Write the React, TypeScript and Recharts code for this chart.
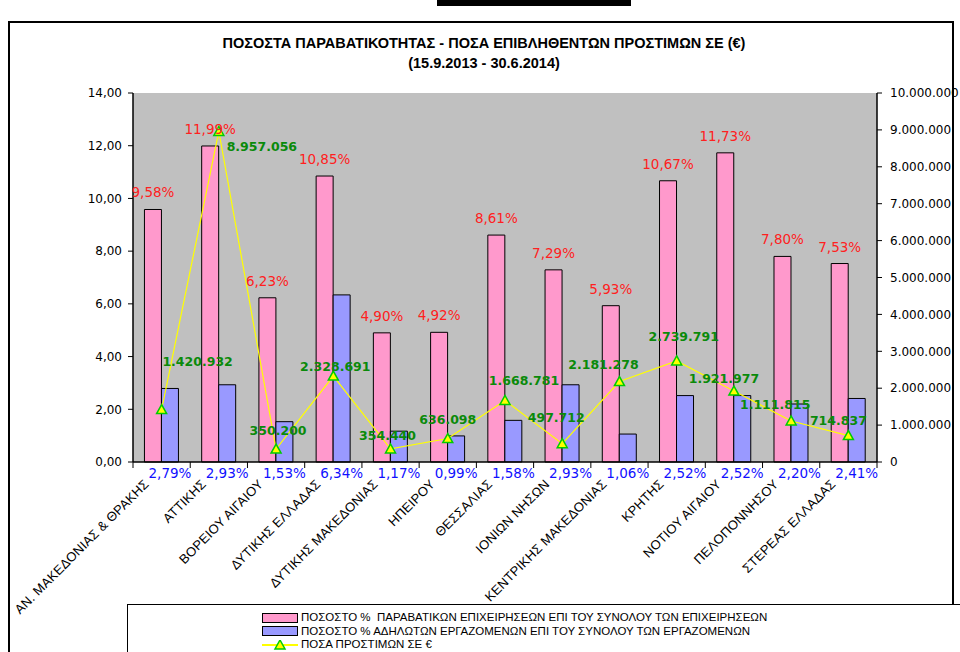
import {
  Bar,
  CartesianGrid,
  ComposedChart,
  LabelList,
  Line,
  XAxis,
  YAxis,
} from "recharts";

const REGIONS = [
  "ΑΝ. ΜΑΚΕΔΟΝΙΑΣ & ΘΡΑΚΗΣ",
  "ΑΤΤΙΚΗΣ",
  "ΒΟΡΕΙΟΥ ΑΙΓΑΙΟΥ",
  "ΔΥΤΙΚΗΣ ΕΛΛΑΔΑΣ",
  "ΔΥΤΙΚΗΣ ΜΑΚΕΔΟΝΙΑΣ",
  "ΗΠΕΙΡΟΥ",
  "ΘΕΣΣΑΛΙΑΣ",
  "ΙΟΝΙΩΝ ΝΗΣΩΝ",
  "ΚΕΝΤΡΙΚΗΣ ΜΑΚΕΔΟΝΙΑΣ",
  "ΚΡΗΤΗΣ",
  "ΝΟΤΙΟΥ ΑΙΓΑΙΟΥ",
  "ΠΕΛΟΠΟΝΝΗΣΟΥ",
  "ΣΤΕΡΕΑΣ ΕΛΛΑΔΑΣ",
];
const VIOLATING_PCT = [9.58, 11.99, 6.23, 10.85, 4.9, 4.92, 8.61, 7.29, 5.93, 10.67, 11.73, 7.8, 7.53];
const UNDECLARED_PCT = [2.79, 2.93, 1.53, 6.34, 1.17, 0.99, 1.58, 2.93, 1.06, 2.52, 2.52, 2.2, 2.41];
const FINES_EUR = [
  1420932, 8957056, 350200, 2328691, 354440, 636098, 1668781, 497712, 2181278, 2739791, 1921977,
  1111815, 714837,
];
const LEFT_TICKS = [0, 2, 4, 6, 8, 10, 12, 14];
const RIGHT_TICKS = [0, 1000000, 2000000, 3000000, 4000000, 5000000, 6000000, 7000000, 8000000, 9000000, 10000000];

const LEGEND_LABELS = [
  "ΠΟΣΟΣΤΟ %  ΠΑΡΑΒΑΤΙΚΩΝ ΕΠΙΧΕΙΡΗΣΕΩΝ ΕΠΙ ΤΟΥ ΣΥΝΟΛΟΥ ΤΩΝ ΕΠΙΧΕΙΡΗΣΕΩΝ",
  "ΠΟΣΟΣΤΟ % ΑΔΗΛΩΤΩΝ ΕΡΓΑΖΟΜΕΝΩΝ ΕΠΙ ΤΟΥ ΣΥΝΟΛΟΥ ΤΩΝ ΕΡΓΑΖΟΜΕΝΩΝ",
  "ΠΟΣΑ ΠΡΟΣΤΙΜΩΝ ΣΕ €",
];

// hand-placed label nudges for the fine amounts (like in the excel original)
const FINE_LABEL_SHIFT = [
  [36, -48], [43, 15], [2, -19], [2, -10], [-3, -13], [0, -19], [19, -20],
  [-6, -26], [-16, -17], [7, -24], [-10, -13], [-16, -16], [-10, -15],
];

const data = REGIONS.map((region, i) => ({
  region,
  violating: VIOLATING_PCT[i],
  undeclared: UNDECLARED_PCT[i],
  fines: FINES_EUR[i],
}));

const PLOT = { left: 133, right: 877, top: 93, bottom: 462 };
const BAND = (PLOT.right - PLOT.left) / REGIONS.length;

const PINK = "#FF99CC";
const BLUE = "#9999FF";
const NARROW = "'Liberation Sans Narrow', 'Liberation Sans', Arial, sans-serif";
const VERDANA = "'DejaVu Sans', Verdana, sans-serif";

const pct = (v: number) => v.toFixed(2).replace(".", ",") + "%";
const dec = (v: number) => v.toFixed(2).replace(".", ",");
const thousands = (v: number) => String(Math.round(v)).replace(/\B(?=(\d{3})+(?!\d))/g, ".");

function RegionTick(props: any) {
  const { x, payload, index } = props;
  const edge = x - BAND / 2;
  return (
    <g>
      <line x1={edge} y1={PLOT.bottom} x2={edge} y2={PLOT.bottom + 6} stroke="#000" />
      {index === REGIONS.length - 1 && (
        <line x1={x + BAND / 2} y1={PLOT.bottom} x2={x + BAND / 2} y2={PLOT.bottom + 6} stroke="#000" />
      )}
      <text
        transform={`translate(${x - 12},${PLOT.bottom + 23}) rotate(-45)`}
        textAnchor="end"
        fontFamily={NARROW}
        fontSize={13}
        letterSpacing={0.2}
        fill="#000"
      >
        {payload.value}
      </text>
    </g>
  );
}

function Triangle(props: any) {
  const { cx, cy, index } = props;
  if (cx == null || cy == null) return <g key={index} />;
  return (
    <polygon
      key={index}
      points={`${cx},${cy - 5} ${cx - 5},${cy + 4} ${cx + 5},${cy + 4}`}
      fill="#FFFF00"
      stroke="#00CC00"
      strokeWidth={1.5}
    />
  );
}

function ViolatingLabel(props: any) {
  const { x, y, width, value } = props;
  return (
    <text x={x + width / 2} y={y - 17} textAnchor="middle" dominantBaseline="central" fontFamily={VERDANA} fontSize={13.5} fill="#FF2020">
      {pct(value)}
    </text>
  );
}

function UndeclaredLabel(props: any) {
  const { x, y, width, height, value } = props;
  return (
    <text x={x + width / 2} y={y + height + 11} textAnchor="middle" dominantBaseline="central" fontFamily={VERDANA} fontSize={13.5} fill="#1010FF">
      {pct(value)}
    </text>
  );
}

function FineLabel(props: any) {
  const { x, y, value, index } = props;
  const [dx, dy] = FINE_LABEL_SHIFT[index] || [0, -17];
  return (
    <text x={x + dx} y={y + dy} textAnchor="middle" dominantBaseline="central" fontFamily={VERDANA} fontSize={12.5} fontWeight="bold" fill="#0A8A0A">
      {thousands(value)}
    </text>
  );
}

function LegendBox() {
  const swatches = [
    <div style={{ width: 34, height: 8, background: PINK, border: "1px solid #000" }} />,
    <div style={{ width: 34, height: 8, background: BLUE, border: "1px solid #000" }} />,
    <svg width={36} height={10}>
      <line x1={0} y1={5} x2={36} y2={5} stroke="#FFFF00" strokeWidth={2} />
      <polygon points="18,0 13,9 23,9" fill="#FFFF00" stroke="#00CC00" strokeWidth={1.5} />
    </svg>,
  ];
  return (
    <div
      style={{
        position: "absolute",
        left: 127,
        top: 604,
        width: 840,
        height: 70,
        border: "1px solid #000",
        background: "#fff",
      }}
    >
      {LEGEND_LABELS.map((label, i) => (
        <div
          key={label}
          style={{
            position: "absolute",
            left: 134,
            top: 6 + i * 13.5,
            display: "flex",
            alignItems: "center",
            gap: 3,
            fontFamily: NARROW,
            fontSize: 11.5,
            lineHeight: "13px",
            whiteSpace: "pre",
          }}
        >
          {swatches[i]}
          <span>{label}</span>
        </div>
      ))}
    </div>
  );
}

export default function App() {
  return (
    <div
      style={{
        position: "absolute",
        left: 0,
        top: 0,
        width: 960,
        height: 652,
        overflow: "hidden",
        background: "#fff",
      }}
    >
      <div style={{ position: "absolute", left: 437, top: 0, width: 194, height: 6, background: "#000" }} />
      <div
        style={{
          position: "absolute",
          left: 8,
          top: 21,
          width: 942,
          height: 700,
          border: "2px solid #000",
        }}
      />
      <div
        style={{
          position: "absolute",
          left: 0,
          top: 33,
          width: 968,
          textAlign: "center",
          fontFamily: NARROW,
          fontWeight: "bold",
          fontSize: 14.5,
          lineHeight: "20px",
        }}
      >
        <div>ΠΟΣΟΣΤΑ ΠΑΡΑΒΑΤΙΚΟΤΗΤΑΣ - ΠΟΣΑ ΕΠΙΒΛΗΘΕΝΤΩΝ ΠΡΟΣΤΙΜΩΝ ΣΕ (€)</div>
        <div>(15.9.2013 - 30.6.2014)</div>
      </div>

      <div style={{ position: "absolute", left: 0, top: 0 }}>
        <ComposedChart
          width={960}
          height={652}
          data={data}
          margin={{ top: PLOT.top, right: 0, bottom: 0, left: 0 }}
          barCategoryGap="20%"
          barGap={0}
        >
          <CartesianGrid fill="#C0C0C0" horizontal={false} vertical={false} />
          <XAxis
            dataKey="region"
            xAxisId={0}
            height={652 - PLOT.bottom}
            interval={0}
            tickLine={false}
            axisLine={{ stroke: "#000", strokeWidth: 1.5 }}
            tick={<RegionTick />}
          />
          <YAxis
            yAxisId="left"
            orientation="left"
            width={PLOT.left}
            domain={[0, 14]}
            ticks={LEFT_TICKS}
            tickFormatter={dec}
            tickSize={5}
            tickMargin={6}
            axisLine={{ stroke: "#000", strokeWidth: 1.5 }}
            tickLine={{ stroke: "#000" }}
            tick={{ fill: "#000", fontSize: 12, fontFamily: VERDANA }}
          />
          <YAxis
            yAxisId="right"
            orientation="right"
            width={960 - PLOT.right}
            domain={[0, 10000000]}
            ticks={RIGHT_TICKS}
            tickFormatter={thousands}
            tickSize={5}
            tickMargin={8}
            axisLine={{ stroke: "#000", strokeWidth: 1.5 }}
            tickLine={{ stroke: "#000" }}
            tick={{ fill: "#000", fontSize: 12, fontFamily: VERDANA, textAnchor: "start" }}
          />
          <Bar yAxisId="left" dataKey="violating" fill={PINK} stroke="#000" strokeWidth={1} isAnimationActive={false}>
            <LabelList dataKey="violating" content={<ViolatingLabel />} />
          </Bar>
          <Bar yAxisId="left" dataKey="undeclared" fill={BLUE} stroke="#000" strokeWidth={1} isAnimationActive={false}>
            <LabelList dataKey="undeclared" content={<UndeclaredLabel />} />
          </Bar>
          <Line
            yAxisId="right"
            dataKey="fines"
            stroke="#FFFF00"
            strokeWidth={1.2}
            dot={<Triangle />}
            activeDot={false}
            isAnimationActive={false}
          >
            <LabelList dataKey="fines" content={<FineLabel />} />
          </Line>
        </ComposedChart>
      </div>

      <LegendBox />
    </div>
  );
}
